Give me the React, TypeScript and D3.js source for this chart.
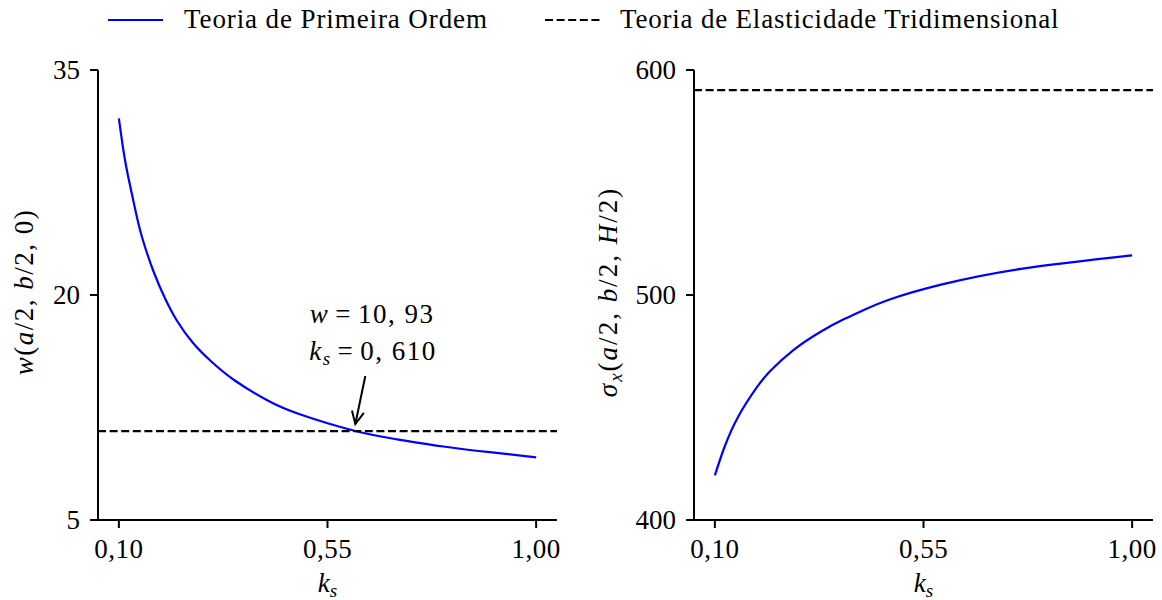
import React from "react";
import * as d3 from "d3";

// ---- data ----
const xTicks = [0.1, 0.55, 1.0];
const xTickLabels = ["0,10", "0,55", "1,00"];

const ksLeft = [0.10, 0.11, 0.12, 0.135, 0.15, 0.175, 0.20, 0.225, 0.26, 0.30, 0.35, 0.42, 0.49, 0.61, 0.70, 0.80, 0.90, 1.00];
const wFirstOrder = [31.78, 29.6, 27.9, 25.75, 23.85, 21.55, 19.75, 18.3, 16.8, 15.55, 14.3, 12.98, 12.05, 10.93, 10.38, 9.9, 9.52, 9.18];
const wElasticity = 10.93;
const leftYTicks = [5, 20, 35];

const ksRight = [0.10, 0.12, 0.15, 0.19, 0.22, 0.27, 0.33, 0.38, 0.42, 0.48, 0.59, 0.76, 1.00];
const sigmaFirstOrder = [419.8, 432.0, 445.8, 458.8, 466.3, 475.6, 483.9, 489.4, 493.2, 498.2, 504.7, 511.6, 517.6];
const sigmaElasticity = 591.1;
const rightYTicks = [400, 500, 600];

const annotPoint = { ks: 0.61, w: 10.93 };

const legendLabels = ["Teoria de Primeira Ordem", "Teoria de Elasticidade Tridimensional"];

// ---- layout ----
const FONT = "'Liberation Serif', 'Times New Roman', serif";
const FS = 27;
const SUB = 19;
const TOP = 70;
const BOTTOM = 520;
const BLUE = "#0000ff";

type PanelProps = {
  x0: number;
  x1: number;
  yDomain: [number, number];
  yTicks: number[];
  ks: number[];
  vals: number[];
  refVal: number;
  children?: (x: d3.ScaleLinear<number, number>, y: d3.ScaleLinear<number, number>) => React.ReactNode;
  ylabel: React.ReactNode;
  ylabelX: number;
  ylabelSpacing: number;
};

function Panel({ x0, x1, yDomain, yTicks, ks, vals, refVal, children, ylabel, ylabelX, ylabelSpacing }: PanelProps) {
  const x = d3.scaleLinear().domain([0.055, 1.045]).range([x0, x1]);
  const y = d3.scaleLinear().domain(yDomain).range([BOTTOM, TOP]);
  const line = d3
    .line<number>()
    .x((_, i) => x(ks[i]))
    .y((d) => y(d))
    .curve(d3.curveNatural);
  const [dx0, dx1] = x.domain();
  return (
    <g>
      <path d={line(vals) || ""} fill="none" stroke={BLUE} strokeWidth={2.2} />
      <line x1={x(dx0)} x2={x(dx1)} y1={y(refVal)} y2={y(refVal)} stroke="#000" strokeWidth={2.2} strokeDasharray="8,3.6" />
      {/* spines */}
      <line x1={x0} x2={x0} y1={TOP} y2={BOTTOM + 1} stroke="#000" strokeWidth={2} />
      <line x1={x0 - 1} x2={x1} y1={BOTTOM} y2={BOTTOM} stroke="#000" strokeWidth={2} />
      {yTicks.map((t) => (
        <g key={t}>
          <line x1={x0 - 8} x2={x0} y1={y(t)} y2={y(t)} stroke="#000" strokeWidth={2} />
          <text x={x0 - 18} y={y(t) + 8.5} textAnchor="end" fontSize={FS} fontFamily={FONT}>
            {t}
          </text>
        </g>
      ))}
      {xTicks.map((t, i) => (
        <g key={t}>
          <line x1={x(t)} x2={x(t)} y1={BOTTOM} y2={BOTTOM + 8} stroke="#000" strokeWidth={2} />
          <text x={x(t)} y={BOTTOM + 38} textAnchor="middle" fontSize={FS} fontFamily={FONT} letterSpacing={0.5}>
            {xTickLabels[i]}
          </text>
        </g>
      ))}
      <text x={(x0 + x1) / 2} y={592} textAnchor="middle" fontSize={FS} fontFamily={FONT}>
        <tspan fontStyle="italic">k</tspan>
        <tspan fontStyle="italic" fontSize={SUB} dy={5}>s</tspan>
      </text>
      <text
        transform={`translate(${ylabelX},${(TOP + BOTTOM) / 2 - 3}) rotate(-90)`}
        textAnchor="middle"
        fontSize={FS}
        fontFamily={FONT}
        letterSpacing={ylabelSpacing}
      >
        {ylabel}
      </text>
      {children ? children(x, y) : null}
    </g>
  );
}

export default function App() {
  return (
    <svg width={1162} height={600} style={{ position: "absolute", left: 0, top: 0, background: "#fff" }}>
      <rect width={1162} height={600} fill="#fff" />
      {/* legend */}
      <line x1={108} x2={163} y1={20} y2={20} stroke={BLUE} strokeWidth={2.2} />
      <text x={184} y={28} fontSize={FS} fontFamily={FONT} letterSpacing={0.9}>{legendLabels[0]}</text>
      <line x1={545} x2={600} y1={20} y2={20} stroke="#000" strokeWidth={2.2} strokeDasharray="8,3.6" />
      <text x={620} y={28} fontSize={FS} fontFamily={FONT} letterSpacing={0.8}>{legendLabels[1]}</text>

      <Panel
        x0={98}
        x1={557}
        yDomain={[5, 35]}
        yTicks={leftYTicks}
        ks={ksLeft}
        vals={wFirstOrder}
        refVal={wElasticity}
        ylabelX={33}
        ylabelSpacing={1.5}
        ylabel={
          <>
            <tspan fontStyle="italic">w</tspan>(<tspan fontStyle="italic">a</tspan>/2, <tspan fontStyle="italic">b</tspan>/2, 0)
          </>
        }
      >
        {(x, y) => {
          const px = x(annotPoint.ks);
          const py = y(annotPoint.w);
          const tx = px + 10;
          const ty = py - 55;
          const hx = px;
          const hy = py - 7;
          const ang = Math.atan2(hy - ty, hx - tx);
          const a1 = ang + Math.PI - 0.45;
          const a2 = ang + Math.PI + 0.45;
          return (
            <g>
              <line x1={tx} y1={ty} x2={hx} y2={hy} stroke="#000" strokeWidth={2} />
              <path
                d={`M${hx + 14 * Math.cos(a1)},${hy + 14 * Math.sin(a1)} L${hx},${hy} L${hx + 14 * Math.cos(a2)},${hy + 14 * Math.sin(a2)}`}
                fill="none"
                stroke="#000"
                strokeWidth={2}
              />
              <text x={372} y={323} textAnchor="middle" fontSize={FS} fontFamily={FONT} letterSpacing={1.5}>
                <tspan fontStyle="italic">w</tspan>
                <tspan dx={6}>=</tspan>
                <tspan dx={6}>10, 93</tspan>
              </text>
              <text x={373} y={360} textAnchor="middle" fontSize={FS} fontFamily={FONT} letterSpacing={1.5}>
                <tspan fontStyle="italic">k</tspan>
                <tspan fontStyle="italic" fontSize={SUB} dy={5}>s</tspan>
                <tspan dy={-5} dx={6}>=</tspan>
                <tspan dx={6}>0, 610</tspan>
              </text>
            </g>
          );
        }}
      </Panel>

      <Panel
        x0={694}
        x1={1153}
        yDomain={[400, 600]}
        yTicks={rightYTicks}
        ks={ksRight}
        vals={sigmaFirstOrder}
        refVal={sigmaElasticity}
        ylabelX={617}
        ylabelSpacing={2}
        ylabel={
          <>
            <tspan fontStyle="italic">σ</tspan>
            <tspan fontStyle="italic" fontSize={SUB} dy={5}>x</tspan>
            <tspan dy={-5}>(</tspan>
            <tspan fontStyle="italic">a</tspan>/2, <tspan fontStyle="italic">b</tspan>/2, <tspan fontStyle="italic">H</tspan>/2)
          </>
        }
      />
    </svg>
  );
}
